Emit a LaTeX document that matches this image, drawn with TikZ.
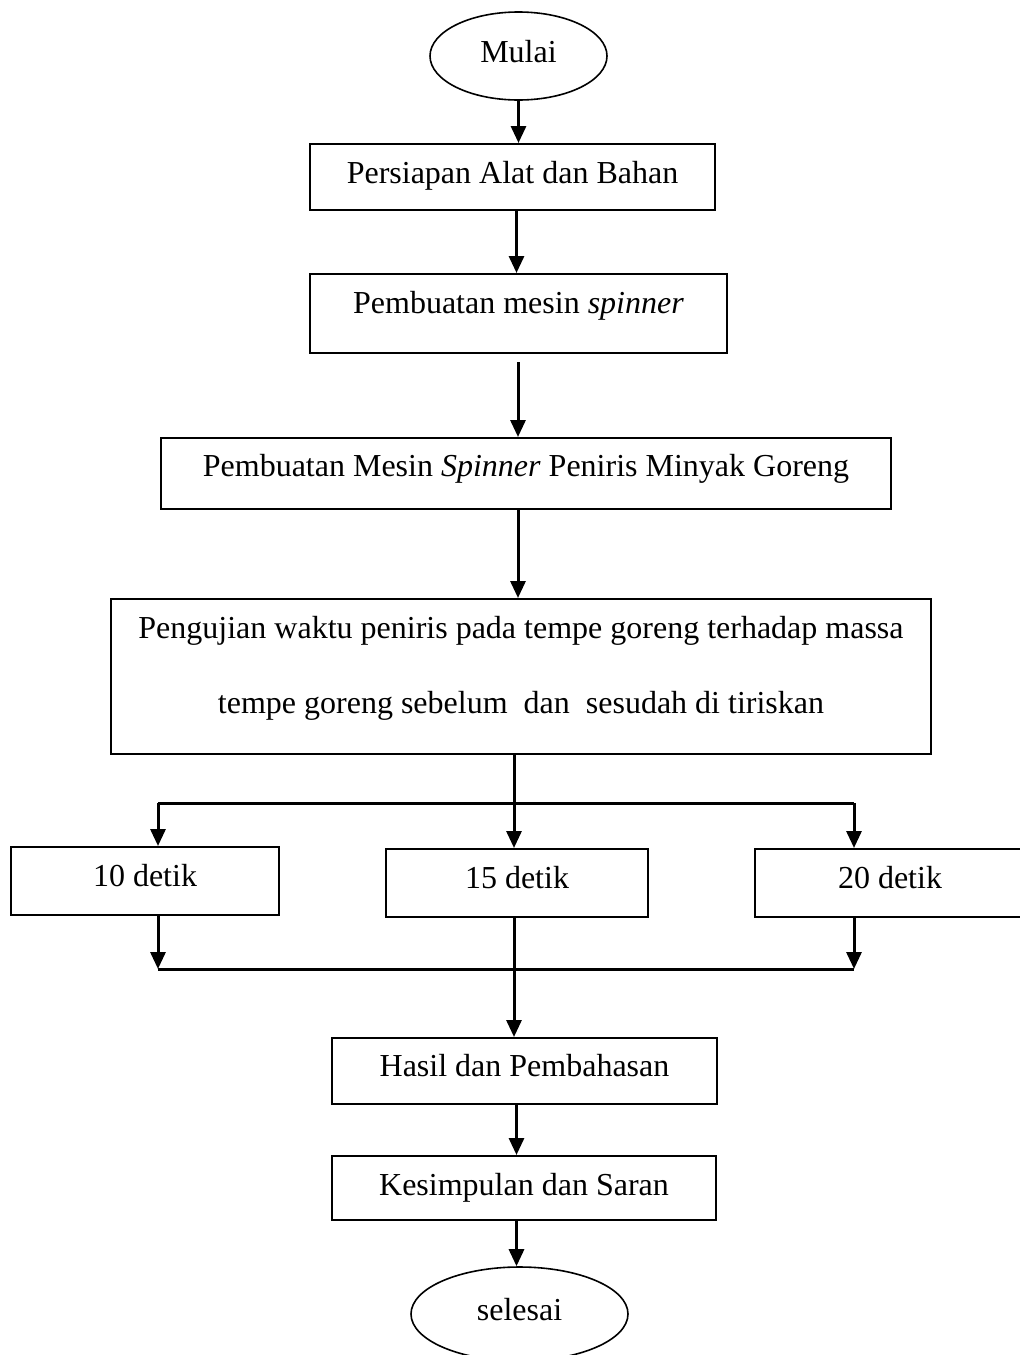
\documentclass[tikz,border=0pt]{standalone}
\usepackage{fontspec}
\setmainfont{Liberation Serif}
\usetikzlibrary{positioning,shapes.geometric,arrows.meta}

\begin{document}
\begin{tikzpicture}[x=0.5pt,y=-0.5pt,
	procb/.style={
	  draw=black,
	  line width=1pt,
	  rectangle,
	  anchor=north west,
	  inner xsep=0pt,
	  inner ysep=0pt,
	  align=center,
	  font=\fontsize{16}{19}\selectfont
	},
	termb/.style={
	  draw=black,
	  line width=0.8pt,
	  ellipse,
	  inner sep=0pt,
	  minimum height=44pt,
	  text height=10.5pt,
	  text depth=4.5pt,
	  font=\fontsize{16}{19}\selectfont
	},
	flowb/.style={
	  line width=1.5pt,
	  -{Triangle[length=8.5pt,width=7.5pt]}
	},
	lineb/.style={
	  line width=1.5pt
	}]

	\useasboundingbox (0,0) rectangle (1020,1355);

	\node[termb,minimum width=88.5pt] (Mulai) at (518.5,56) {Mulai};
	\node[procb,minimum width=202.5pt,text height=19.5pt,text depth=13.5pt] (Persiapan) at (309,143) {Persiapan Alat dan Bahan};
	\node[procb,minimum width=208.5pt,text height=19.5pt,text depth=20pt] (Mesin) at (309,273) {Pembuatan mesin \textit{spinner}};
	\node[procb,minimum width=365pt,text height=19pt,text depth=16.5pt] (MesinPeniris) at (160,437) {Pembuatan Mesin \textit{Spinner} Peniris Minyak Goreng};
	\node[procb,minimum width=410pt,text height=57pt,text depth=20.5pt] (Pengujian) at (110,598)
	  {\fontsize{16}{37.5}\selectfont\begin{tabular}[b]{@{}c@{}}Pengujian waktu peniris pada tempe goreng terhadap massa\\ tempe goreng sebelum~ dan~ sesudah di tiriskan\end{tabular}};

	\node[procb,minimum width=134pt,text height=19.5pt,text depth=14.5pt] (Detik10) at (10,846) {10 detik};
	\node[procb,minimum width=131pt,text height=19.5pt,text depth=14.5pt] (Detik15) at (385,848) {15 detik};
	\node[procb,minimum width=135pt,text height=19.5pt,text depth=14.5pt] (Detik20) at (754,848) {20 detik};

	\node[procb,minimum width=192.5pt,text height=19pt,text depth=14pt] (Hasil) at (331,1037) {Hasil dan Pembahasan};
	\node[procb,minimum width=192pt,text height=19.5pt,text depth=12.5pt] (Kesimpulan) at (331,1155) {Kesimpulan dan Saran};
	\node[termb,minimum width=108.5pt,minimum height=47pt] (Selesai) at (519.5,1314) {selesai};

	% branch and merge points
	\coordinate (Split) at (514,803);
	\coordinate (SplitL) at (158,803);
	\coordinate (SplitR) at (854,803);
	\coordinate (MergeL) at (158,969);
	\coordinate (MergeR) at (854,969);
	\coordinate (MesinOut) at (518,362);
	\coordinate (Axis) at (516.5,0);

	\draw[flowb] (Mulai.south) -- (Mulai.south |- Persiapan.north);
	\draw[flowb] (Persiapan.south -| Axis) -- (Mesin.north -| Axis);
	\draw[flowb] (MesinOut) -- (MesinOut |- MesinPeniris.north);
	\draw[flowb] (MesinOut |- MesinPeniris.south) -- (MesinOut |- Pengujian.north);

	\draw[lineb] (Split |- Pengujian.south) -- (Split);
	\draw[lineb] (SplitL) -- (SplitR);
	\draw[flowb] (SplitL) -- (SplitL |- Detik10.north);
	\draw[flowb] (Split) -- (Split |- Detik15.north);
	\draw[flowb] (SplitR) -- (SplitR |- Detik20.north);

	\draw[flowb] (SplitL |- Detik10.south) -- (MergeL);
	\draw[flowb] (SplitR |- Detik20.south) -- (MergeR);
	\draw[lineb] (MergeL) -- (MergeR);
	\draw[flowb] (Split |- Detik15.south) -- (Split |- Hasil.north);

	\draw[flowb] (Hasil.south -| Axis) -- (Kesimpulan.north -| Axis);
	\draw[flowb] (Kesimpulan.south -| Axis) -- (Selesai.north -| Axis);
\end{tikzpicture}
\end{document}
